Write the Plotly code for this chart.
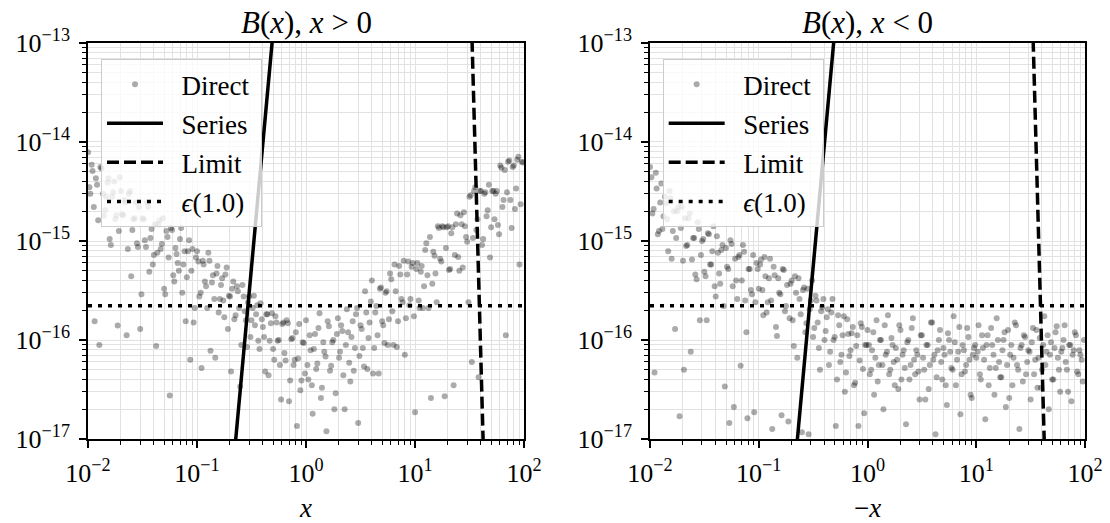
import plotly.graph_objects as go

# Sample positions |x| shared by both panels (two interleaved sets)
x_grid_a = [
    0.01, 0.0105, 0.011, 0.0115, 0.0121, 0.0127, 0.0133, 0.014, 0.0147, 0.0154, 0.0162, 0.017,
    0.0178, 0.0187, 0.0196, 0.0205, 0.0215, 0.0226, 0.0237, 0.0249, 0.0261, 0.0274, 0.0287, 0.0301,
    0.0316, 0.0332, 0.0348, 0.0365, 0.0383, 0.0402, 0.0422, 0.0442, 0.0464, 0.0487, 0.0511, 0.0536,
    0.0562, 0.059, 0.0619, 0.0649, 0.0681, 0.0715, 0.075, 0.0787, 0.0825, 0.0866, 0.0908, 0.0953,
    0.1, 0.105, 0.11, 0.115, 0.121, 0.127, 0.133, 0.14, 0.147, 0.154, 0.162, 0.17,
    0.178, 0.187, 0.196, 0.205, 0.215, 0.226, 0.237, 0.249, 0.261, 0.274, 0.287, 0.301,
    0.316, 0.332, 0.348, 0.365, 0.383, 0.402, 0.422, 0.442, 0.464, 0.487, 0.511, 0.536,
    0.562, 0.59, 0.619, 0.649, 0.681, 0.715, 0.75, 0.787, 0.825, 0.866, 0.908, 0.953,
    1.0, 1.05, 1.1, 1.15, 1.21, 1.27, 1.33, 1.4, 1.47, 1.54, 1.62, 1.7,
    1.78, 1.87, 1.96, 2.05, 2.15, 2.26, 2.37, 2.49, 2.61, 2.74, 2.87, 3.01,
    3.16, 3.32, 3.48, 3.65, 3.83, 4.02, 4.22, 4.42, 4.64, 4.87, 5.11, 5.36,
    5.62, 5.9, 6.19, 6.49, 6.81, 7.15, 7.5, 7.87, 8.25, 8.66, 9.08, 9.53,
    10.0, 10.5, 11.0, 11.5, 12.1, 12.7, 13.3, 14.0, 14.7, 15.4, 16.2, 17.0,
    17.8, 18.7, 19.6, 20.5, 21.5, 22.6, 23.7, 24.9, 26.1, 27.4, 28.7, 30.1,
    31.6, 33.2, 34.8, 36.5, 38.3, 40.2, 42.2, 44.2, 46.4, 48.7, 51.1, 53.6,
    56.2, 59.0, 61.9, 64.9, 68.1, 71.5, 75.0, 78.7, 82.5, 86.6, 90.8, 95.3,
]
x_grid_b = [
    0.0103, 0.0108, 0.0113, 0.0118, 0.0124, 0.013, 0.0137, 0.0144, 0.0151, 0.0158, 0.0166, 0.0174,
    0.0182, 0.0192, 0.0201, 0.021, 0.022, 0.0232, 0.0243, 0.0255, 0.0268, 0.0281, 0.0294, 0.0309,
    0.0324, 0.034, 0.0357, 0.0374, 0.0393, 0.0412, 0.0432, 0.0453, 0.0476, 0.0499, 0.0524, 0.0549,
    0.0576, 0.0605, 0.0634, 0.0665, 0.0698, 0.0733, 0.0769, 0.0806, 0.0846, 0.0887, 0.0931, 0.0977,
    0.103, 0.108, 0.113, 0.118, 0.124, 0.13, 0.137, 0.144, 0.151, 0.158, 0.166, 0.174,
    0.182, 0.192, 0.201, 0.21, 0.22, 0.232, 0.243, 0.255, 0.268, 0.281, 0.294, 0.309,
    0.324, 0.34, 0.357, 0.374, 0.393, 0.412, 0.432, 0.453, 0.476, 0.499, 0.524, 0.549,
    0.576, 0.605, 0.634, 0.665, 0.698, 0.733, 0.769, 0.806, 0.846, 0.887, 0.931, 0.977,
    1.03, 1.08, 1.13, 1.18, 1.24, 1.3, 1.37, 1.44, 1.51, 1.58, 1.66, 1.74,
    1.82, 1.92, 2.01, 2.1, 2.2, 2.32, 2.43, 2.55, 2.68, 2.81, 2.94, 3.09,
    3.24, 3.4, 3.57, 3.74, 3.93, 4.12, 4.32, 4.53, 4.76, 4.99, 5.24, 5.49,
    5.76, 6.05, 6.34, 6.65, 6.98, 7.33, 7.69, 8.06, 8.46, 8.87, 9.31, 9.77,
    10.3, 10.8, 11.3, 11.8, 12.4, 13.0, 13.7, 14.4, 15.1, 15.8, 16.6, 17.4,
    18.2, 19.2, 20.1, 21.0, 22.0, 23.2, 24.3, 25.5, 26.8, 28.1, 29.4, 30.9,
    32.4, 34.0, 35.7, 37.4, 39.3, 41.2, 43.2, 45.3, 47.6, 49.9, 52.4, 54.9,
    57.6, 60.5, 63.4, 66.5, 69.8, 73.3, 76.9, 80.6, 84.6, 88.7, 93.1, 97.7,
]

# Direct evaluation error, x > 0
direct_pos_y_a = [
    7.9e-15, 3.0e-15, 5.1e-15, 1.55e-16, 3.7e-15, 8.9e-17, 5.4e-15, 1.8e-15, 2.8e-15, 4.3e-15, 9.1e-16, 3.1e-15,
    1.66e-15, 1.4e-16, 4.4e-15, 1.86e-15, 2.6e-15, 1.12e-16, 3.0e-15, 4.4e-16, 1.66e-15, 2.45e-15, 8.7e-16, 1.29e-16,
    1.7e-15, 1.02e-15, 2.45e-15, 4.9e-16, 1.32e-15, 7.2e-16, 8.7e-17, 1.48e-15, 8.3e-16, 1.7e-15, 2.9e-16, 1.1e-15,
    2.75e-17, 1.29e-15, 3.9e-16, 7.4e-16, 5.0e-16, 1.35e-15, 5.8e-16, 1.55e-16, 7.9e-16, 6.3e-17, 8.3e-16, 2.1e-16,
    7.9e-16, 2.75e-16, 5.2e-17, 5.8e-16, 3.5e-16, 7.6e-16, 7.8e-17, 4.5e-16, 6.6e-17, 5.6e-16, 2.6e-16, 4.2e-16,
    1.7e-16, 5.4e-16, 2.8e-16, 4.8e-17, 3.9e-16, 1.78e-16, 3.1e-16, 3.4e-17, 3.6e-16, 1.95e-16, 8.5e-17, 2.75e-16,
    1.58e-16, 2.8e-16, 1.82e-16, 9.8e-17, 2.35e-16, 1.35e-16, 4.8e-17, 1.82e-16, 9.8e-17, 1.86e-16, 6.3e-17, 1.5e-16,
    1.0e-16, 2.5e-17, 1.5e-16, 6.2e-17, 1.48e-16, 3.9e-17, 1.05e-16, 6.3e-17, 1.35e-17, 1.45e-16, 3.9e-17, 9.3e-17,
    1.58e-16, 4.0e-17, 7.9e-17, 1.8e-17, 1.15e-16, 5.8e-17, 1.86e-16, 3.3e-17, 7.6e-17, 1.2e-17, 1.38e-16, 5.5e-17,
    1.0e-16, 2.9e-17, 1.66e-16, 7.6e-17, 1.23e-16, 2.0e-17, 2.05e-16, 5.9e-17, 1.07e-16, 4.9e-17, 1.82e-16, 1.45e-17,
    1.41e-16, 8.3e-17, 3.1e-16, 5.1e-17, 1.5e-16, 4.0e-16, 8.3e-17, 2.2e-16, 4.6e-17, 3.4e-16, 1.41e-16, 3.0e-16,
    8.9e-17, 4.7e-16, 1.95e-16, 5.8e-16, 8.5e-17, 5.6e-16, 2.6e-16, 6.3e-16, 1.66e-16, 6.2e-16, 2.6e-16, 6.0e-16,
    1.86e-17, 6.0e-16, 2.1e-16, 5.6e-16, 3.5e-16, 9.5e-16, 2.1e-16, 2.6e-17, 7.8e-16, 4.7e-16, 1.41e-15, 6.6e-16,
    1.41e-15, 2.7e-17, 1.38e-15, 5.1e-16, 1.2e-15, 3.5e-17, 1.48e-15, 6.9e-16, 1.82e-15, 5.4e-16, 1.41e-15, 9.8e-16,
    2.8e-15, 6.0e-17, 3.2e-15, 1.29e-15, 4.2e-17, 3.2e-15, 1.05e-15, 3.1e-15, 2.05e-15, 6.8e-16, 3.2e-15, 1.66e-15,
    3.2e-15, 1.17e-15, 5.5e-15, 2.6e-15, 1.12e-16, 6.3e-15, 2.6e-15, 5.6e-15, 2.1e-15, 6.6e-15, 5.8e-16, 6.3e-15,
]
direct_pos_y_b = [
    3.5e-15, 5.9e-15, 2.2e-15, 4.3e-15, 1.62e-15, 5.6e-15, 3.0e-15, 2.05e-15, 3.9e-15, 1.05e-15, 2.8e-15, 4.0e-15,
    1.82e-15, 1.26e-15, 3.2e-15, 1.82e-15, 2.45e-15, 8.3e-16, 3.2e-15, 1.29e-15, 1.7e-15, 9.5e-16, 2.2e-15, 2.9e-16,
    1.66e-15, 8.7e-16, 2.2e-15, 1.07e-15, 5.8e-16, 1.48e-15, 7.6e-16, 1.62e-15, 9.3e-16, 3.3e-16, 1.26e-15, 6.8e-16,
    1.35e-15, 4.5e-16, 8.5e-16, 6.0e-16, 1.05e-15, 3.0e-16, 7.9e-16, 4.3e-16, 1.02e-15, 5.0e-16, 1.5e-16, 6.8e-16,
    6.2e-16, 3.0e-16, 6.3e-16, 3.9e-16, 2.1e-16, 6.3e-16, 3.8e-16, 2.6e-16, 4.7e-16, 1.9e-16, 3.6e-16, 2.5e-16,
    4.6e-16, 1.29e-16, 2.75e-16, 3.3e-16, 1.62e-16, 3.5e-16, 2.1e-16, 8.9e-17, 2.75e-16, 1.58e-16, 2.4e-16, 1.07e-16,
    2.1e-16, 1.41e-16, 2.25e-16, 8.1e-17, 1.62e-16, 1.07e-16, 1.82e-16, 4.4e-17, 1.48e-16, 8.1e-17, 1.74e-16, 9.8e-17,
    5.6e-17, 1.45e-16, 7.4e-17, 1.58e-16, 2.4e-17, 1.02e-16, 5.6e-17, 1.2e-16, 6.5e-17, 3.1e-17, 9.5e-17, 4.6e-17,
    5.6e-17, 1.12e-16, 3.5e-17, 8.1e-17, 5.1e-17, 1.32e-16, 2.6e-17, 9.5e-17, 6.8e-17, 1.55e-16, 4.9e-17, 9.5e-17,
    2.0e-17, 1.15e-16, 6.6e-17, 1.41e-16, 4.4e-17, 8.9e-17, 1.2e-16, 3.8e-17, 1.55e-16, 8.3e-17, 2.1e-16, 6.9e-17,
    1.29e-16, 5.4e-17, 1.9e-16, 1.05e-16, 2.45e-16, 4.6e-17, 1.9e-16, 1.12e-16, 3.3e-16, 1.55e-16, 9.3e-17, 3.1e-16,
    1.62e-16, 4.1e-16, 8.9e-17, 3.1e-16, 1.55e-16, 4.6e-16, 2.4e-16, 7.1e-17, 4.6e-16, 2.25e-16, 5.5e-16, 1.74e-16,
    5.2e-16, 2.5e-16, 4.9e-16, 2.1e-16, 8.1e-16, 4.5e-16, 1.1e-15, 3.7e-16, 7.1e-16, 2.4e-16, 1.35e-15, 6.2e-16,
    1.38e-15, 8.5e-16, 1.41e-15, 5.2e-16, 1.38e-15, 7.2e-16, 1.9e-15, 5.0e-16, 1.48e-15, 1.95e-15, 1.1e-15, 2.4e-16,
    2.9e-15, 1.07e-15, 3.5e-15, 1.66e-15, 3.2e-15, 9.1e-16, 3.0e-15, 1.78e-15, 3.7e-15, 1.38e-15, 3.2e-15, 3.0e-15,
    1.45e-15, 5.8e-15, 2.2e-15, 5.2e-15, 3.1e-15, 6.5e-15, 1.35e-15, 5.8e-15, 3.4e-15, 7.1e-15, 2.35e-15, 6.2e-15,
]

# Direct evaluation error, x < 0 (plotted against -x)
direct_neg_y_a = [
    5.6e-15, 1.9e-15, 4.7e-17, 3.4e-15, 1.26e-15, 3.8e-15, 1.78e-15, 2.4e-15, 7.9e-16, 2.7e-15, 1.26e-15, 1.29e-16,
    2.0e-15, 1.7e-17, 2.2e-15, 5.0e-17, 8.9e-16, 1.7e-15, 7.6e-17, 1.07e-15, 4.6e-16, 1.55e-15, 1.58e-16, 1.0e-15,
    4.9e-16, 1.58e-16, 1.17e-15, 5.8e-16, 1.41e-15, 2.75e-16, 7.6e-16, 3.7e-16, 9.1e-16, 3.4e-17, 5.5e-16, 1.45e-17,
    9.3e-16, 2.1e-17, 4.0e-16, 6.9e-16, 5.5e-17, 9.1e-16, 2.5e-16, 1.62e-17, 5.2e-16, 2.9e-16, 1.86e-17, 6.0e-16,
    3.3e-16, 6.5e-16, 1.78e-16, 4.4e-16, 2.4e-16, 6.6e-16, 1.26e-17, 4.5e-16, 1.1e-16, 3.0e-16, 1.74e-17, 5.1e-16,
    2.2e-16, 1.5e-17, 3.7e-16, 1.58e-16, 4.4e-16, 6.6e-17, 2.6e-16, 1.17e-17, 3.4e-16, 1.48e-16, 1.12e-17, 2.5e-16,
    1.07e-16, 2.8e-16, 1.5e-16, 5.0e-17, 2.15e-16, 1.0e-16, 1.7e-16, 5.6e-17, 1.9e-16, 1.0e-16, 1.35e-17, 1.78e-16,
    6.0e-17, 1.12e-16, 3.0e-17, 1.62e-16, 6.9e-17, 1.17e-16, 3.5e-17, 8.7e-17, 1.35e-17, 1.48e-16, 5.1e-17, 8.9e-17,
    1.26e-16, 4.5e-17, 7.9e-17, 2.8e-17, 1.58e-16, 5.6e-17, 1.0e-16, 2.0e-17, 7.1e-17, 1.78e-16, 5.0e-17, 8.9e-17,
    3.5e-17, 6.3e-17, 1.41e-16, 4.0e-17, 7.9e-17, 1.41e-17, 1.0e-16, 5.6e-17, 1.66e-16, 4.5e-17, 7.1e-17, 2.5e-17,
    1.12e-16, 5.0e-17, 8.9e-17, 3.2e-17, 1.5e-16, 6.3e-17, 1.12e-17, 7.9e-17, 1.26e-16, 4.0e-17, 7.1e-17, 2.2e-17,
    1.0e-16, 5.2e-17, 1.74e-16, 3.5e-17, 7.6e-17, 1.78e-17, 8.9e-17, 4.8e-17, 1.32e-16, 6.3e-17, 2.6e-17, 8.3e-17,
    6.6e-17, 1.41e-16, 4.0e-17, 8.3e-17, 1.58e-17, 1.12e-16, 5.2e-17, 8.9e-17, 2.8e-17, 1.66e-16, 6.0e-17, 4.2e-17,
    1.0e-16, 2.1e-17, 1.26e-16, 7.1e-17, 3.5e-17, 1.5e-16, 5.6e-17, 1.26e-17, 8.9e-17, 1.12e-16, 4.5e-17, 7.9e-17,
    2.5e-17, 1.32e-16, 6.3e-17, 3.3e-17, 1.05e-16, 5.0e-17, 1.74e-16, 7.6e-17, 2.0e-17, 9.5e-17, 4.0e-17, 1.2e-16,
    6.6e-17, 3.0e-17, 8.3e-17, 1.41e-16, 5.0e-17, 8.9e-17, 2.4e-17, 7.9e-17, 1.12e-16, 4.5e-17, 7.1e-17, 3.8e-17,
]
direct_neg_y_b = [
    4.4e-15, 2.1e-15, 4.9e-15, 1.17e-15, 2.45e-15, 1.32e-15, 2.8e-15, 1.66e-15, 3.2e-15, 6.6e-16, 2.0e-15, 1.07e-15,
    2.2e-15, 1.35e-15, 6.3e-16, 1.7e-15, 9.1e-16, 1.9e-15, 6.5e-16, 1.07e-15, 4.1e-16, 1.32e-15, 7.2e-16, 1.05e-15,
    4.4e-16, 1.2e-15, 5.8e-16, 7.9e-16, 3.5e-16, 1.12e-15, 4.7e-16, 8.1e-16, 2.2e-16, 8.5e-16, 5.2e-16, 1.02e-15,
    3.5e-16, 6.6e-16, 2.6e-16, 7.2e-16, 4.0e-16, 7.8e-16, 1.2e-16, 5.2e-16, 3.2e-16, 7.2e-16, 2.4e-16, 5.2e-16,
    5.8e-16, 3.2e-16, 6.9e-16, 1.9e-16, 4.2e-16, 2.5e-16, 5.5e-16, 1.35e-16, 4.2e-16, 2.9e-16, 5.2e-16, 1.95e-16,
    3.6e-16, 1.66e-16, 4.0e-16, 8.7e-17, 3.0e-16, 4.2e-16, 1.82e-16, 3.2e-16, 1.2e-16, 3.3e-16, 2.05e-16, 4.0e-16,
    1.32e-16, 2.5e-16, 8.3e-17, 1.95e-16, 2.6e-16, 1.23e-16, 2.05e-16, 7.6e-17, 2.6e-16, 1.07e-16, 4.0e-17, 1.41e-16,
    7.1e-17, 1.74e-16, 4.7e-17, 1.15e-16, 7.9e-17, 1.35e-16, 3.7e-17, 1.12e-16, 6.2e-17, 1.35e-16, 1.82e-17, 8.9e-17,
    8.9e-17, 5.0e-17, 1.2e-16, 6.6e-17, 3.8e-17, 1.0e-16, 5.6e-17, 1.41e-16, 7.6e-17, 4.5e-17, 1.05e-16, 6.0e-17,
    8.3e-17, 3.2e-17, 1.26e-16, 7.1e-17, 5.2e-17, 9.5e-17, 4.0e-17, 1.32e-16, 6.3e-17, 7.9e-17, 4.8e-17, 1.12e-16,
    6.6e-17, 2.5e-17, 8.9e-17, 5.6e-17, 1.5e-16, 7.1e-17, 4.2e-17, 1.0e-16, 6.0e-17, 8.3e-17, 3.5e-17, 1.17e-16,
    7.6e-17, 5.0e-17, 9.5e-17, 6.3e-17, 1.35e-16, 4.5e-17, 7.9e-17, 5.6e-17, 1.07e-16, 2.8e-17, 7.1e-17, 8.9e-17,
    7.6e-17, 4.5e-17, 1.12e-16, 6.3e-17, 8.9e-17, 3.5e-17, 1.32e-16, 7.1e-17, 5.2e-17, 1.0e-16, 4.2e-17, 7.9e-17,
    1.2e-16, 5.6e-17, 2.6e-17, 8.9e-17, 6.6e-17, 1.41e-16, 5.0e-17, 8.3e-17, 3.8e-17, 1.07e-16, 6.0e-17, 7.6e-17,
    9.5e-17, 4.5e-17, 1.26e-16, 6.6e-17, 3.3e-17, 8.9e-17, 5.6e-17, 1.12e-16, 7.1e-17, 4.0e-17, 8.3e-17, 1.38e-16,
    5.0e-17, 7.6e-17, 1.0e-16, 6.0e-17, 3.0e-17, 8.9e-17, 7.1e-17, 1.2e-16, 4.8e-17, 7.9e-17, 6.3e-17, 1.0e-16,
]

# Truncated series error (steep rise) and large-|x| limit error (steep fall)
series_x = [0.22, 0.30, 0.40, 0.50]
series_y = [7.0e-18, 2.9e-16, 9.1e-15, 1.34e-13]
limit_x = [33.0, 37.5, 43.0]
limit_y = [1.6e-13, 1.0e-15, 4.3e-18]

# Machine epsilon at 1.0
eps_x = [0.01, 100.0]
eps_y = [2.22e-16, 2.22e-16]

# Axis ticks
x_major = [1e-2, 1e-1, 1e0, 1e1, 1e2]
x_major_text = ["10<sup>−2</sup>", "10<sup>−1</sup>", "10<sup>0</sup>", "10<sup>1</sup>", "10<sup>2</sup>"]
y_major = [1e-17, 1e-16, 1e-15, 1e-14, 1e-13]
y_major_text = ["10<sup>−17</sup>", "10<sup>−16</sup>", "10<sup>−15</sup>", "10<sup>−14</sup>", "10<sup>−13</sup>"]
minor_mantissas = [2, 3, 4, 5, 6, 7, 8, 9]

FONT = "Liberation Serif"
GRID = "#e2e2e2"
SP = "\u00a0\u00a0"  # gap between legend symbol and label
TAIL = "\u00a0"

x_minor = [m * d for d in x_major[:-1] for m in minor_mantissas]
y_minor = [m * d for d in y_major[:-1] for m in minor_mantissas]

x_all = x_grid_a + x_grid_b

fig = go.Figure()

panels = [
    ("x", "y", direct_pos_y_a + direct_pos_y_b, "legend", "p"),
    ("x2", "y2", direct_neg_y_a + direct_neg_y_b, "legend2", "n"),
]
for xa, ya, yvals, leg, tag in panels:
    fig.add_trace(go.Scatter(
        x=x_all, y=yvals, mode="markers", name=SP + "Direct" + TAIL,
        marker=dict(color="rgba(0,0,0,0.33)", size=6, line=dict(width=0)),
        xaxis=xa, yaxis=ya, legend=leg, legendgroup=tag + "direct",
    ))
    fig.add_trace(go.Scatter(
        x=series_x, y=series_y, mode="lines", name=SP + "Series" + TAIL,
        line=dict(color="black", width=3.5),
        xaxis=xa, yaxis=ya, legend=leg, legendgroup=tag + "series",
    ))
    fig.add_trace(go.Scatter(
        x=limit_x, y=limit_y, mode="lines", name=SP + "Limit" + TAIL,
        line=dict(color="black", width=3.5, dash="12px,5px"),
        xaxis=xa, yaxis=ya, legend=leg, legendgroup=tag + "limit",
    ))
    fig.add_trace(go.Scatter(
        x=eps_x, y=eps_y, mode="lines", name=SP + "<i>ϵ</i>(1.0)" + TAIL,
        line=dict(color="black", width=3.5, dash="4px,6px"),
        xaxis=xa, yaxis=ya, legend=leg, legendgroup=tag + "eps",
    ))


def log_axis(rng, tickvals, ticktext, minorvals, domain, anchor, standoff):
    return dict(
        type="log", range=rng, domain=domain, anchor=anchor, automargin=False,
        tickvals=tickvals, ticktext=ticktext, ticklabelstandoff=standoff,
        showline=True, linecolor="black", linewidth=1.5, mirror=True,
        ticks="outside", ticklen=7, tickwidth=1.5, tickcolor="black",
        showgrid=True, gridcolor=GRID, gridwidth=1.2, zeroline=False,
        tickfont=dict(family=FONT, size=26, color="black"),
        minor=dict(tickvals=minorvals, ticks="outside", ticklen=4, tickwidth=1,
                   tickcolor="black", showgrid=True, gridcolor=GRID, gridwidth=1.2),
    )


y_dom = [0.1606, 0.9178]
xl = [0.0793, 0.4721]
xr = [0.5856, 0.9775]

xaxis = log_axis([-2, 2], x_major, x_major_text, x_minor, xl, "y", 3)
xaxis["title"] = dict(text="<i>x</i>", font=dict(family=FONT, size=27, color="black"), standoff=12)
xaxis2 = log_axis([-2, 2], x_major, x_major_text, x_minor, xr, "y2", 3)
xaxis2["title"] = dict(text="−<i>x</i>", font=dict(family=FONT, size=27, color="black"), standoff=12)
yaxis = log_axis([-17, -13], y_major, y_major_text, y_minor, y_dom, "x", 4)
yaxis2 = log_axis([-17, -13], y_major, y_major_text, y_minor, y_dom, "x2", 4)

legend_style = dict(
    xanchor="left", yanchor="top",
    bgcolor="rgba(255,255,255,0.8)", bordercolor="#cccccc", borderwidth=1,
    font=dict(family=FONT, size=27, color="black"),
    tracegroupgap=1, itemwidth=56,
)

fig.update_layout(
    template="none",
    width=1110, height=523,
    margin=dict(l=0, r=0, t=0, b=0),
    font=dict(family=FONT, color="black"),
    paper_bgcolor="white", plot_bgcolor="white",
    xaxis=xaxis, xaxis2=xaxis2, yaxis=yaxis, yaxis2=yaxis2,
    legend=dict(x=0.091, y=0.887, **legend_style),
    legend2=dict(x=0.597, y=0.887, **legend_style),
    annotations=[
        dict(text="<i>B</i>(<i>x</i>), <i>x</i> > 0", x=0.2757, y=0.957, xref="paper", yref="paper",
             showarrow=False, xanchor="center", yanchor="middle",
             font=dict(family=FONT, size=31, color="black")),
        dict(text="<i>B</i>(<i>x</i>), <i>x</i> < 0", x=0.7815, y=0.957, xref="paper", yref="paper",
             showarrow=False, xanchor="center", yanchor="middle",
             font=dict(family=FONT, size=31, color="black")),
    ],
)

fig.write_html("out.html")
